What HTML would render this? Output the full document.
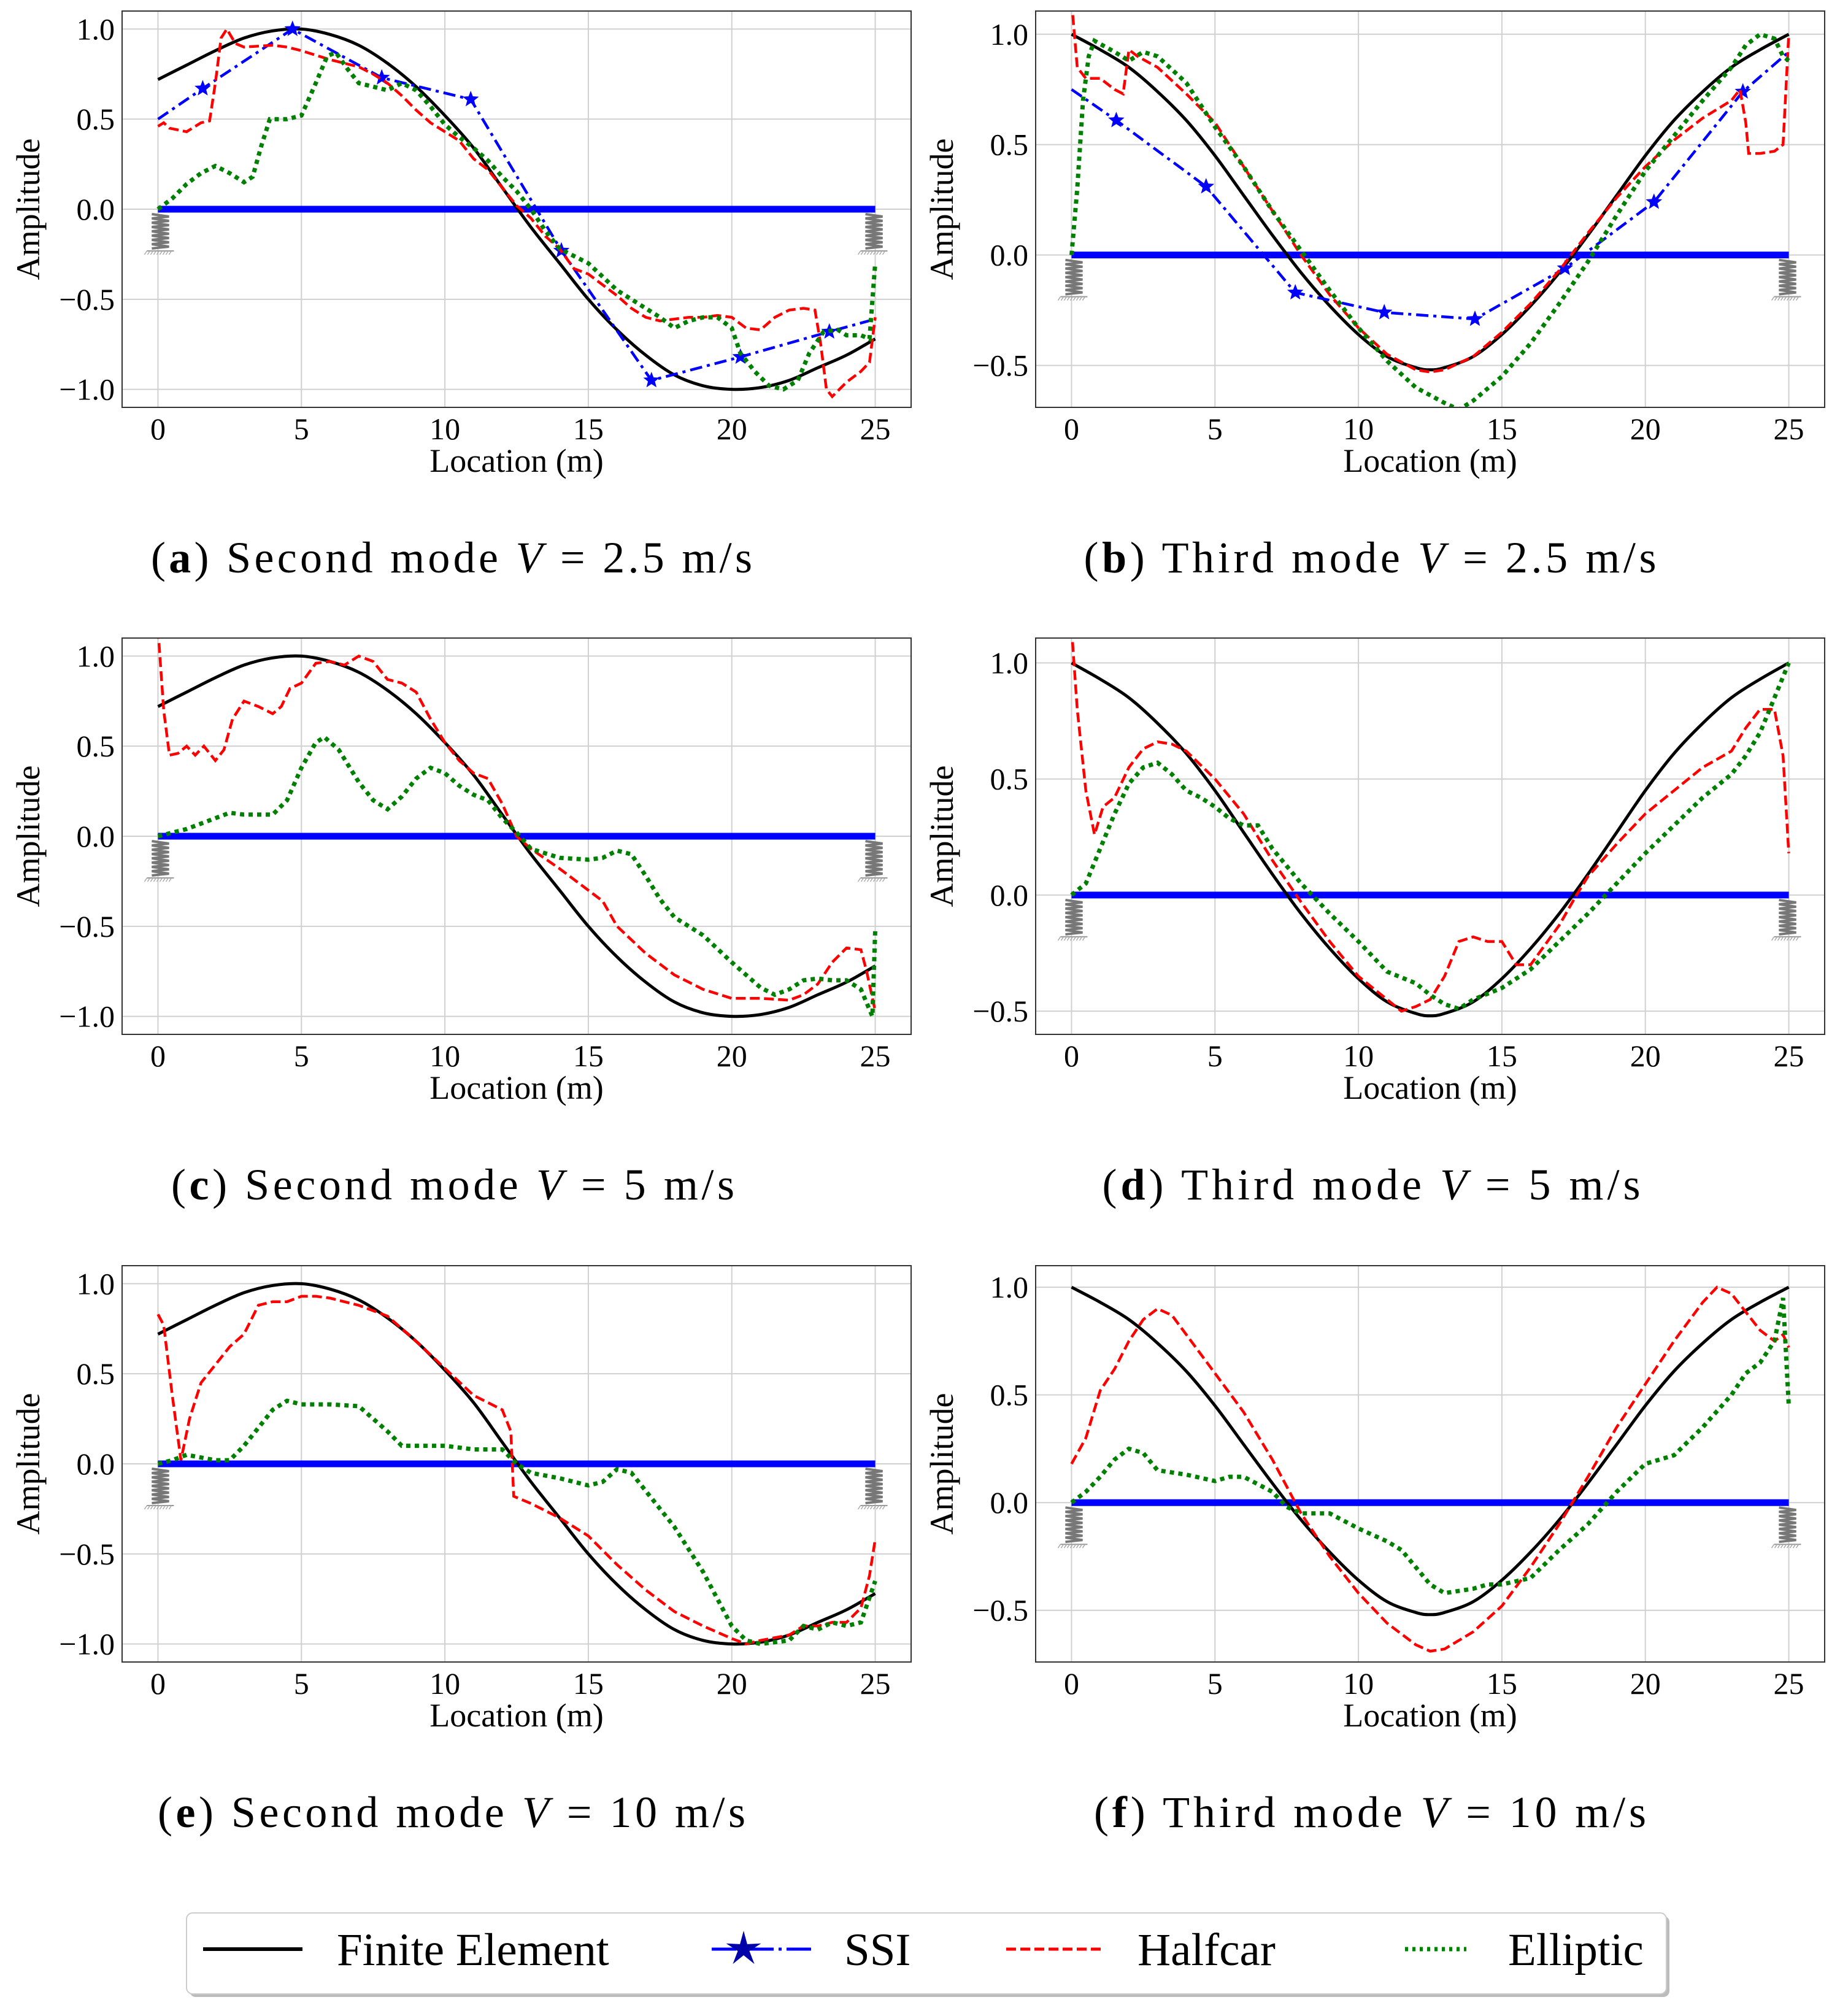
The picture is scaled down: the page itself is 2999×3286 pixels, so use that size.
<!DOCTYPE html>
<html><head><meta charset="utf-8">
<style>
html,body{margin:0;padding:0;background:#fff;}
svg{display:block;font-family:"Liberation Serif",serif;}
</style></head>
<body>
<svg id="fig" width="2999" height="3286" viewBox="0 0 2999 3286" xmlns="http://www.w3.org/2000/svg"></svg>
<script>
// ---- data ----
const xTicks = [0,5,10,15,20,25];
const feMode2 = [[0,0.72],[1,0.80],[2,0.88],[3,0.95],[4,0.99],[5,1.0],[6,0.97],[7,0.91],[8,0.81],[9,0.68],[10,0.52],[11,0.34],[12,0.12],[13,-0.1],[14,-0.3],[15,-0.5],[16,-0.67],[17,-0.81],[18,-0.92],[19,-0.98],[20,-1.0],[21,-0.99],[22,-0.95],[23,-0.88],[24,-0.81],[25,-0.72]];
const feMode3 = [[0,1.0],[1,0.93],[2,0.85],[3,0.74],[4,0.61],[5,0.45],[6,0.27],[7,0.09],[8,-0.08],[9,-0.23],[10,-0.36],[11,-0.46],[12,-0.51],[12.5,-0.52],[13,-0.51],[14,-0.46],[15,-0.36],[16,-0.23],[17,-0.08],[18,0.09],[19,0.27],[20,0.45],[21,0.61],[22,0.74],[23,0.85],[24,0.93],[25,1.0]];
const ssiA = [[0,0.5],[1.56,0.67],[4.69,1.0],[7.8,0.73],[10.9,0.61],[14.06,-0.23],[17.2,-0.95],[20.3,-0.82],[23.4,-0.68],[25,-0.61]];
const ssiB = [[0,0.75],[1.56,0.61],[4.69,0.31],[7.8,-0.17],[10.9,-0.26],[14.06,-0.29],[17.2,-0.06],[20.3,0.24],[23.4,0.74],[25,0.92]];
const halfA = [[0,0.46],[0.2,0.48],[0.4,0.45],[1,0.43],[1.5,0.48],[1.8,0.49],[2.0,0.7],[2.2,0.95],[2.4,1.0],[2.7,0.92],[3,0.9],[4,0.91],[4.5,0.9],[5,0.88],[6,0.83],[7,0.79],[7.5,0.75],[8,0.7],[8.5,0.63],[9,0.55],[9.5,0.48],[10,0.43],[10.5,0.38],[11,0.28],[11.5,0.22],[12,0.12],[12.5,0.02],[13,-0.05],[13.5,-0.15],[14,-0.22],[14.5,-0.33],[15,-0.36],[15.5,-0.42],[16,-0.48],[16.5,-0.55],[17,-0.6],[17.5,-0.62],[18,-0.61],[18.5,-0.6],[19,-0.6],[19.5,-0.59],[20,-0.6],[20.5,-0.66],[21,-0.67],[21.5,-0.6],[22,-0.56],[22.5,-0.55],[22.9,-0.56],[23.1,-0.75],[23.3,-1.0],[23.5,-1.04],[24,-0.96],[24.5,-0.9],[24.8,-0.85],[25,-0.6]];
const ellA = [[0,0.0],[0.5,0.06],[1,0.14],[1.5,0.2],[2,0.24],[2.5,0.2],[3,0.15],[3.3,0.18],[3.6,0.35],[3.9,0.5],[4.5,0.5],[5,0.52],[5.5,0.7],[5.9,0.85],[6.2,0.87],[6.6,0.78],[7,0.7],[7.5,0.68],[8,0.66],[8.5,0.7],[9,0.66],[9.5,0.57],[10,0.47],[10.5,0.4],[11,0.34],[11.5,0.27],[12,0.18],[12.5,0.1],[13,0.0],[13.5,-0.12],[14,-0.22],[15,-0.3],[16,-0.45],[17,-0.55],[17.5,-0.6],[18,-0.66],[18.5,-0.62],[19,-0.6],[19.5,-0.6],[20,-0.66],[20.3,-0.8],[20.8,-0.9],[21.3,-0.98],[21.8,-1.0],[22.3,-0.95],[22.7,-0.8],[23.2,-0.68],[23.7,-0.67],[24,-0.7],[24.5,-0.7],[24.8,-0.72],[25,-0.3]];
const halfB = [[0,1.15],[0.2,0.85],[0.5,0.8],[1,0.8],[1.5,0.75],[1.8,0.73],[2,0.93],[2.3,0.9],[3,0.85],[4,0.73],[5,0.6],[6,0.4],[7,0.2],[8,0.0],[9,-0.18],[10,-0.33],[11,-0.45],[12,-0.52],[12.5,-0.53],[13,-0.52],[14,-0.46],[15,-0.35],[16,-0.22],[17,-0.07],[18,0.1],[19,0.26],[20,0.4],[21,0.52],[22,0.62],[23,0.7],[23.3,0.75],[23.5,0.6],[23.6,0.46],[24,0.46],[24.5,0.47],[24.8,0.5],[25,1.0]];
const ellB = [[0,0.0],[0.2,0.3],[0.4,0.7],[0.6,0.9],[0.8,0.97],[1.5,0.92],[2,0.88],[2.5,0.92],[3,0.9],[4,0.78],[5,0.58],[6,0.4],[7,0.2],[8,0.02],[9,-0.16],[10,-0.33],[11,-0.48],[12,-0.6],[13,-0.67],[13.5,-0.7],[14,-0.66],[15,-0.55],[16,-0.4],[17,-0.22],[18,-0.03],[19,0.18],[20,0.38],[21,0.54],[22,0.7],[23,0.85],[23.5,0.95],[24,1.0],[24.5,0.98],[24.8,0.9],[25,0.88]];
const halfC = [[0,1.15],[0.2,0.7],[0.4,0.45],[0.7,0.46],[1,0.5],[1.3,0.45],[1.6,0.5],[2,0.42],[2.3,0.48],[2.6,0.65],[3,0.75],[3.5,0.72],[4,0.68],[4.3,0.72],[4.6,0.82],[5,0.85],[5.5,0.96],[6,0.97],[6.5,0.95],[7,1.0],[7.5,0.97],[8,0.87],[8.5,0.85],[9,0.8],[9.5,0.65],[10,0.52],[10.5,0.42],[11,0.35],[11.5,0.32],[12,0.18],[12.5,0.0],[13,-0.07],[14,-0.18],[15,-0.3],[15.5,-0.36],[16,-0.5],[17,-0.65],[18,-0.77],[19,-0.85],[20,-0.9],[21,-0.9],[22,-0.91],[22.5,-0.88],[23,-0.82],[23.5,-0.7],[24,-0.62],[24.5,-0.63],[24.7,-0.75],[25,-0.97]];
const ellC = [[0,0.0],[1,0.04],[2,0.1],[2.5,0.13],[3,0.12],[4,0.12],[4.5,0.2],[5,0.38],[5.5,0.52],[5.8,0.55],[6.3,0.48],[7,0.3],[7.5,0.2],[8,0.15],[8.5,0.22],[9,0.32],[9.5,0.38],[10,0.35],[10.5,0.28],[11,0.23],[11.5,0.2],[12,0.1],[12.5,0.02],[13,-0.07],[14,-0.12],[15,-0.13],[15.5,-0.12],[16,-0.08],[16.5,-0.1],[17,-0.22],[17.5,-0.35],[18,-0.45],[19,-0.55],[20,-0.7],[21,-0.84],[21.5,-0.88],[22,-0.85],[22.5,-0.8],[23,-0.79],[23.5,-0.8],[24,-0.8],[24.5,-0.85],[24.9,-1.0],[25,-0.52]];
const halfD = [[0,1.15],[0.2,0.8],[0.5,0.45],[0.8,0.26],[1.1,0.38],[1.5,0.42],[2,0.55],[2.5,0.63],[3,0.66],[3.5,0.65],[4,0.62],[5,0.5],[6,0.35],[7,0.15],[8,-0.03],[9,-0.2],[10,-0.35],[11,-0.45],[11.5,-0.5],[12,-0.48],[12.5,-0.45],[13,-0.35],[13.5,-0.2],[14,-0.18],[14.5,-0.2],[15,-0.2],[15.5,-0.3],[16,-0.3],[17,-0.13],[17.6,0.0],[18,0.08],[19,0.22],[20,0.35],[21,0.45],[22,0.55],[23,0.62],[23.5,0.72],[24,0.8],[24.5,0.8],[24.8,0.6],[25,0.18]];
const ellD = [[0,0.0],[0.5,0.05],[1,0.2],[1.5,0.35],[2,0.48],[2.5,0.55],[3,0.57],[3.5,0.52],[4,0.45],[4.5,0.42],[5,0.38],[5.5,0.33],[6,0.3],[6.5,0.3],[7,0.2],[8,0.05],[9,-0.08],[10,-0.2],[11,-0.33],[12,-0.38],[12.5,-0.43],[13,-0.47],[13.5,-0.49],[14,-0.45],[15,-0.4],[16,-0.32],[17,-0.2],[18,-0.08],[19,0.05],[20,0.18],[21,0.3],[22,0.42],[23,0.52],[23.5,0.6],[24,0.7],[24.5,0.85],[25,1.0]];
const halfE = [[0,0.83],[0.2,0.77],[0.5,0.38],[0.8,0.02],[1.1,0.25],[1.5,0.45],[2,0.55],[2.5,0.65],[3,0.72],[3.5,0.88],[4,0.9],[4.5,0.9],[5,0.93],[5.5,0.93],[6,0.92],[7,0.88],[8,0.82],[9,0.68],[10,0.53],[11,0.38],[12,0.3],[12.3,0.18],[12.4,-0.18],[13,-0.22],[14,-0.3],[15,-0.4],[16,-0.56],[17,-0.7],[18,-0.82],[19,-0.9],[20,-0.97],[20.5,-1.0],[21,-0.98],[22,-0.95],[22.5,-0.9],[23,-0.9],[23.5,-0.88],[24,-0.88],[24.5,-0.8],[24.8,-0.62],[25,-0.42]];
const ellE = [[0,0.0],[0.5,0.02],[1,0.05],[2,0.02],[2.5,0.02],[3,0.1],[3.5,0.2],[4,0.3],[4.5,0.35],[5,0.33],[6,0.33],[7,0.32],[7.5,0.25],[8,0.18],[8.5,0.1],[9,0.1],[10,0.1],[11,0.08],[12,0.08],[12.5,0.0],[13,-0.05],[14,-0.08],[15,-0.12],[15.5,-0.1],[16,-0.03],[16.5,-0.05],[17,-0.15],[18,-0.35],[19,-0.6],[20,-0.9],[20.5,-0.98],[21,-1.0],[22,-0.98],[22.5,-0.9],[23,-0.92],[23.5,-0.88],[24,-0.9],[24.5,-0.88],[25,-0.65]];
const halfF = [[0,0.18],[0.5,0.3],[1,0.52],[1.5,0.62],[2,0.75],[2.5,0.85],[3,0.9],[3.5,0.87],[4,0.78],[5,0.6],[6,0.42],[7,0.2],[8,-0.05],[9,-0.25],[10,-0.42],[11,-0.56],[12,-0.66],[12.5,-0.69],[13,-0.68],[14,-0.6],[15,-0.48],[16,-0.3],[17,-0.1],[18,0.12],[19,0.35],[20,0.55],[21,0.75],[22,0.93],[22.5,1.0],[23,0.97],[24,0.8],[24.5,0.75],[24.8,0.78],[25,0.72]];
const ellF = [[0,0.0],[0.5,0.05],[1,0.12],[1.5,0.2],[2,0.25],[2.5,0.23],[3,0.15],[4,0.13],[5,0.1],[5.5,0.12],[6,0.12],[7,0.05],[7.5,-0.02],[8,-0.05],[9,-0.05],[10,-0.12],[11,-0.18],[11.5,-0.22],[12,-0.3],[12.5,-0.38],[13,-0.42],[14,-0.4],[14.5,-0.38],[15,-0.38],[16,-0.35],[17,-0.22],[18,-0.1],[19,0.05],[20,0.18],[21,0.22],[22,0.35],[23,0.5],[23.5,0.6],[24,0.65],[24.5,0.75],[24.8,0.95],[25,0.45]];
const yTicks2 = [1.0,0.5,0.0,-0.5,-1.0];
const yTicks3 = [1.0,0.5,0.0,-0.5];

const NS="http://www.w3.org/2000/svg";
const svg=document.getElementById('fig');
function mk(tag,attrs,parent){const e=document.createElementNS(NS,tag);for(const k in attrs)e.setAttribute(k,attrs[k]);(parent||svg).appendChild(e);return e;}
function fmt(v){return (v<0?'\u2212':'')+Math.abs(v).toFixed(1);}

const panels=[
 {id:'a',left:199,top:18,ylo:-1.1,yhi:1.1,fe:feMode2,ssi:ssiA,half:halfA,ell:ellA,yt:yTicks2,cap:'Second mode',v:'2.5',cx:736,cy:933,tl:980},
 {id:'b',left:1688,top:18,ylo:-0.69,yhi:1.105,fe:feMode3,ssi:ssiB,half:halfB,ell:ellB,yt:yTicks3,cap:'Third mode',v:'2.5',cx:2233,cy:933,tl:933},
 {id:'c',left:199,top:1040,ylo:-1.1,yhi:1.1,fe:feMode2,ssi:null,half:halfC,ell:ellC,yt:yTicks2,cap:'Second mode',v:'5',cx:738,cy:1955,tl:918},
 {id:'d',left:1688,top:1040,ylo:-0.6,yhi:1.107,fe:feMode3,ssi:null,half:halfD,ell:ellD,yt:yTicks3,cap:'Third mode',v:'5',cx:2235,cy:1955,tl:877},
 {id:'e',left:199,top:2063,ylo:-1.1,yhi:1.1,fe:feMode2,ssi:null,half:halfE,ell:ellE,yt:yTicks2,cap:'Second mode',v:'10',cx:736,cy:2978,tl:958},
 {id:'f',left:1688,top:2063,ylo:-0.74,yhi:1.1,fe:feMode3,ssi:null,half:halfF,ell:ellF,yt:yTicks3,cap:'Third mode',v:'10',cx:2233,cy:2978,tl:900}
];
const W=1286,H=646,xlo=-1.25,xhi=26.25;

function starPath(cx,cy,R,r){let d='';for(let i=0;i<10;i++){const a=-Math.PI/2+i*Math.PI/5;const rr=i%2?r:R;d+=(i?'L':'M')+(cx+rr*Math.cos(a)).toFixed(1)+' '+(cy+rr*Math.sin(a)).toFixed(1);}return d+'Z';}
function spring(g,cx,y0){
  const s=mk('g',{},g);
  
  
  let d='M'+(cx-14)+' '+y0;
  for(let i=0;i<8;i++){d+=' L'+(cx+14)+' '+(y0+4+i*7)+' L'+(cx-14)+' '+(y0+7+i*7);}
  mk('path',{d:d,stroke:'#777',fill:'none','stroke-width':4},s);
  mk('line',{x1:cx-22,y1:y0+60,x2:cx+22,y2:y0+60,stroke:'#999','stroke-width':2},s);
  for(let i=0;i<9;i++)mk('line',{x1:cx-22+i*5,y1:y0+60,x2:cx-26+i*5,y2:y0+66,stroke:'#aaa','stroke-width':1.5},s);
}

panels.forEach(p=>{
  const g=mk('g',{});
  
  
  const X=v=>p.left+(v-xlo)/(xhi-xlo)*W;
  const Y=v=>p.top+(p.yhi-v)/(p.yhi-p.ylo)*H;
  const cid='clip'+p.id;
  const cp=mk('clipPath',{id:cid},g);mk('rect',{x:p.left,y:p.top,width:W,height:H},cp);
  xTicks.forEach(t=>{const l=mk('line',{x1:X(t),x2:X(t),y1:p.top,y2:p.top+H,stroke:'#d0d0d0','stroke-width':2},g);
    const tx=mk('text',{x:X(t),y:p.top+H+52,'font-size':50,'text-anchor':'middle'},g);tx.textContent=t;});
  p.yt.forEach(t=>{const l=mk('line',{x1:p.left,x2:p.left+W,y1:Y(t),y2:Y(t),stroke:'#d0d0d0','stroke-width':2},g);
    const tx=mk('text',{x:p.left-12,y:Y(t)+17,'font-size':50,'text-anchor':'end'},g);tx.textContent=fmt(t);});
  const plot=mk('g',{'clip-path':'url(#'+cid+')'},g);
  const beam=mk('line',{x1:X(0),x2:X(25),y1:Y(0),y2:Y(0),stroke:'#0000ff','stroke-width':11},plot);
  
  spring(plot,X(0)+4,Y(0)+8);spring(plot,X(25)-2,Y(0)+8);
  const path=a=>a.map((q,i)=>(i?'L':'M')+X(q[0]).toFixed(1)+' '+Y(q[1]).toFixed(1)).join(' ');
  const smooth=a=>{const P=a.map(q=>[X(q[0]),Y(q[1])]);let d='M'+P[0][0].toFixed(1)+' '+P[0][1].toFixed(1);
    for(let i=0;i<P.length-1;i++){const p0=P[Math.max(0,i-1)],p1=P[i],p2=P[i+1],p3=P[Math.min(P.length-1,i+2)];
      d+=' C'+(p1[0]+(p2[0]-p0[0])/6).toFixed(1)+' '+(p1[1]+(p2[1]-p0[1])/6).toFixed(1)+' '+(p2[0]-(p3[0]-p1[0])/6).toFixed(1)+' '+(p2[1]-(p3[1]-p1[1])/6).toFixed(1)+' '+p2[0].toFixed(1)+' '+p2[1].toFixed(1);}
    return d;};
  const fe=mk('path',{d:smooth(p.fe),stroke:'#000',fill:'none','stroke-width':5},plot);
  
  if(p.ssi){
    const s=mk('path',{d:path(p.ssi),stroke:'#0000ff',fill:'none','stroke-width':4.5,'stroke-dasharray':'20 8 5 8'},plot);
    
    p.ssi.slice(1,-1).forEach(q=>{const st=mk('path',{d:starPath(X(q[0]),Y(q[1]),14,6),fill:'#0000ff'},plot);});
  }
  const h=mk('path',{d:path(p.half),stroke:'#ff0000',fill:'none','stroke-width':4.5,'stroke-dasharray':'16 7'},plot);
  
  const e=mk('path',{d:path(p.ell),stroke:'#008000',fill:'none','stroke-width':7,'stroke-dasharray':'7 7'},plot);
  
  const fr=mk('rect',{x:p.left,y:p.top,width:W,height:H,fill:'none',stroke:'#333','stroke-width':2},g);
  
  const xl=mk('text',{x:X(12.5),y:p.top+H+105,'font-size':54,'text-anchor':'middle'},g);xl.textContent='Location (m)';
  
  const yl=mk('text',{x:0,y:0,'font-size':54,'text-anchor':'middle',transform:'translate('+(p.left-135)+','+(p.top+H/2)+') rotate(-90)'},g);yl.textContent='Amplitude';
  
  const c=mk('text',{x:p.cx,y:p.cy,'font-size':72,'text-anchor':'middle',textLength:p.tl,lengthAdjust:'spacing'},g);
  
  c.innerHTML='(<tspan font-weight="bold">'+p.id+'</tspan>) '+p.cap+' <tspan font-style="italic">V</tspan> = '+p.v+' m/s';
});

// legend
const lg=mk('g',{});


mk('rect',{x:309,y:3123,width:2412,height:132,rx:10,fill:'#bbb'},lg);
mk('rect',{x:304,y:3118,width:2412,height:132,rx:10,fill:'#fff',stroke:'#ccc','stroke-width':2},lg);
const entries=[
 {name:'legend-finite-element',x1:331,x2:493,tx:549,label:'Finite Element',stroke:'#000',w:6,dash:''},
 {name:'legend-ssi',x1:1160,x2:1325,tx:1376,label:'SSI',stroke:'#0000ff',w:5,dash:'40 8 5 8'},
 {name:'legend-halfcar',x1:1640,x2:1800,tx:1854,label:'Halfcar',stroke:'#ff0000',w:5,dash:'16 7'},
 {name:'legend-elliptic',x1:2290,x2:2390,tx:2458,label:'Elliptic',stroke:'#008000',w:7,dash:'5 7'}];
entries.forEach(en=>{
  const g=mk('g',{},lg);
  
  
  mk('line',{x1:en.x1,x2:en.x2,y1:3177,y2:3177,stroke:en.stroke,'stroke-width':en.w,'stroke-dasharray':en.dash},g);
  if(en.label==='SSI')mk('path',{d:starPath(1212,3177,30,10),fill:'#0000aa'},g);
  const t=mk('text',{x:en.tx,y:3203,'font-size':75},g);t.textContent=en.label;
});
</script>
</body></html>
